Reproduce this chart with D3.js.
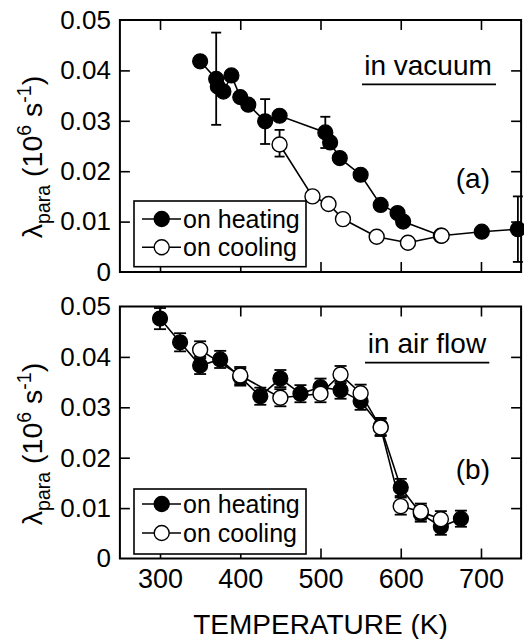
<!DOCTYPE html>
<html><head><meta charset="utf-8">
<script src="https://cdn.jsdelivr.net/npm/d3@7/dist/d3.min.js"></script>
<style>body{margin:0;background:#fff}text{font-family:"Liberation Sans",Arial,Helvetica,sans-serif;fill:#000}</style>
</head><body>
<svg id="chart" width="524" height="639"></svg>
<script>
// ---------- data ----------
const xTicks = [300, 400, 500, 600, 700];
const yTicks = [0, 0.01, 0.02, 0.03, 0.04, 0.05];
const yTickLabels = ["0", "0.01", "0.02", "0.03", "0.04", "0.05"];
const seriesNames = ["on heating", "on cooling"];
const panelNotes = ["in vacuum", "in air flow"];
const panelTags = ["(a)", "(b)"];
const xTitle = "TEMPERATURE (K)";

// (a) in vacuum
const vacHeatT = [350, 370, 372, 379, 389, 400, 410, 431, 449, 506, 512, 524, 550, 575, 596, 603, 650, 701, 746];
const vacHeatV = [0.0418, 0.0383, 0.0368, 0.0358, 0.0390, 0.0347, 0.0332, 0.0299, 0.0310, 0.0277, 0.0257, 0.0226, 0.0193, 0.0133, 0.0117, 0.0100, 0.0072, 0.0080, 0.0085];
const vacCoolT = [449, 490, 510, 528, 570, 609, 651];
const vacCoolV = [0.0253, 0.0150, 0.0135, 0.0105, 0.0070, 0.0058, 0.0072];
const vacErrT  = [370, 431, 506, 746, 449];
const vacErrLo = [0.0292, 0.0254, 0.0246, 0.0020, 0.0229];
const vacErrHi = [0.0475, 0.0343, 0.0308, 0.0150, 0.0282];

// (b) in air flow
const airHeatT = [300, 325, 350, 375, 400, 425, 450, 475, 500, 525, 550, 575, 600, 625, 650, 675];
const airHeatV = [0.0476, 0.0429, 0.0383, 0.0395, 0.0360, 0.0322, 0.0357, 0.0327, 0.0340, 0.0334, 0.0312, 0.0262, 0.0141, 0.0089, 0.0063, 0.0079];
const airHeatErr = [0.0021, 0.0018, 0.0017, 0.0017, 0.0017, 0.0017, 0.0017, 0.0017, 0.0017, 0.0017, 0.0017, 0.0017, 0.0017, 0.0016, 0.0016, 0.0016];
const airCoolT = [350, 400, 450, 500, 525, 550, 575, 600, 625, 650];
const airCoolV = [0.0414, 0.0363, 0.0319, 0.0327, 0.0365, 0.0328, 0.0260, 0.0104, 0.0093, 0.0078];
const airCoolErr = [0.0017, 0.0017, 0.0017, 0.0017, 0.0017, 0.0017, 0.0017, 0.0017, 0.0016, 0.0016];

// ---------- layout ----------
const svg = d3.select("#chart");
const X0 = 119.9, X1 = 521.1;
const x = d3.scaleLinear().domain([250, 750]).range([X0, X1]);

const panels = [
  { top: 20, bottom: 272,
    heat: vacHeatT.map((t, i) => ({ t, v: vacHeatV[i] })),
    cool: vacCoolT.map((t, i) => ({ t, v: vacCoolV[i] })),
    errs: vacErrT.map((t, i) => ({ t, lo: vacErrLo[i], hi: vacErrHi[i] })),
    cap: 5,
    note: { x: 428, y: 75, ux0: 362, ux1: 496, uy: 84.3 },
    tag: { x: 490, y: 187.5 },
    legend: { x0: 134, y0: 201, x1: 306, y1: 266.7, r1: 219, r2: 247.3 },
    labelY: 157 },
  { top: 306.5, bottom: 558.5,
    heat: airHeatT.map((t, i) => ({ t, v: airHeatV[i] })),
    cool: airCoolT.map((t, i) => ({ t, v: airCoolV[i] })),
    errs: airHeatT.map((t, i) => ({ t, lo: airHeatV[i] - airHeatErr[i], hi: airHeatV[i] + airHeatErr[i] }))
      .concat(airCoolT.map((t, i) => ({ t, lo: airCoolV[i] - airCoolErr[i], hi: airCoolV[i] + airCoolErr[i] }))),
    cap: 6,
    note: { x: 427, y: 353.3, ux0: 365, ux1: 489.3, uy: 362.7 },
    tag: { x: 490, y: 479 },
    legend: { x0: 134, y0: 489, x1: 306, y1: 554, r1: 504, r2: 533 },
    labelY: 444 }
];

const R = 7.5;

panels.forEach((p, pi) => {
  const y = d3.scaleLinear().domain([0, 0.05]).range([p.bottom, p.top]);
  const g = svg.append("g");

  // axes (inward ticks on all four sides)
  const left = g.append("g").attr("transform", `translate(${X0},0)`)
    .call(d3.axisLeft(y).tickValues(yTicks).tickSize(-10).tickPadding(9)
      .tickFormat((d, i) => yTickLabels[i]));
  const right = g.append("g").attr("transform", `translate(${X1},0)`)
    .call(d3.axisRight(y).tickValues(yTicks.slice(1, -1)).tickSize(-10).tickFormat(""));
  const topAx = g.append("g").attr("transform", `translate(0,${p.top})`)
    .call(d3.axisTop(x).tickValues(xTicks).tickSize(-10).tickFormat(""));
  const botAx = g.append("g").attr("transform", `translate(0,${p.bottom})`)
    .call(d3.axisBottom(x).tickValues(xTicks).tickSize(-10).tickPadding(10)
      .tickFormat(pi === 1 ? d3.format("d") : ""));
  [left, right, topAx, botAx].forEach(a => {
    a.select(".domain").remove();
    a.selectAll(".tick line").attr("stroke", "#000").attr("stroke-width", 1.6);
    a.selectAll("text").style("font-family", '"Liberation Sans",Arial,sans-serif').attr("fill", "#000");
  });
  left.selectAll(".tick line").filter(d => d === 0 || d === 0.05).remove();
  left.selectAll("text").style("font-size", "26px");
  botAx.selectAll("text").style("font-size", "27px");

  g.append("rect").attr("x", X0).attr("y", p.top).attr("width", X1 - X0).attr("height", p.bottom - p.top)
    .attr("fill", "none").attr("stroke", "#000").attr("stroke-width", 2);

  // lines
  const line = d3.line().x(d => x(d.t)).y(d => y(d.v));
  g.append("path").datum(p.heat).attr("d", line).attr("fill", "none").attr("stroke", "#000").attr("stroke-width", 1.6);
  g.append("path").datum(p.cool).attr("d", line).attr("fill", "none").attr("stroke", "#000").attr("stroke-width", 1.6);

  // error bars
  const eb = g.append("g").attr("stroke", "#000").attr("stroke-width", 1.8);
  p.errs.forEach(e => {
    const cx = x(e.t);
    eb.append("line").attr("x1", cx).attr("x2", cx).attr("y1", y(e.lo)).attr("y2", y(e.hi));
    eb.append("line").attr("x1", cx - p.cap).attr("x2", cx + p.cap).attr("y1", y(e.lo)).attr("y2", y(e.lo));
    eb.append("line").attr("x1", cx - p.cap).attr("x2", cx + p.cap).attr("y1", y(e.hi)).attr("y2", y(e.hi));
  });

  // markers
  g.append("g").selectAll("circle").data(p.heat).join("circle")
    .attr("cx", d => x(d.t)).attr("cy", d => y(d.v)).attr("r", R)
    .attr("fill", "#000").attr("stroke", "#000").attr("stroke-width", 1.2);
  g.append("g").selectAll("circle").data(p.cool).join("circle")
    .attr("cx", d => x(d.t)).attr("cy", d => y(d.v)).attr("r", R)
    .attr("fill", "#fff").attr("stroke", "#000").attr("stroke-width", 1.4);

  // annotation
  g.append("text").attr("x", p.note.x).attr("y", p.note.y).attr("text-anchor", "middle")
    .style("font-size", "28px").text(panelNotes[pi]);
  g.append("line").attr("x1", p.note.ux0).attr("x2", p.note.ux1).attr("y1", p.note.uy).attr("y2", p.note.uy)
    .attr("stroke", "#000").attr("stroke-width", 1.8);
  g.append("text").attr("x", p.tag.x).attr("y", p.tag.y).attr("text-anchor", "end")
    .style("font-size", "28px").text(panelTags[pi]);

  // legend
  const L = p.legend;
  g.append("rect").attr("x", L.x0).attr("y", L.y0).attr("width", L.x1 - L.x0).attr("height", L.y1 - L.y0)
    .attr("fill", "#fff").attr("stroke", "#000").attr("stroke-width", 1.6);
  [[L.r1, "#000"], [L.r2, "#fff"]].forEach(([ry, fill], k) => {
    g.append("line").attr("x1", 142).attr("x2", 181).attr("y1", ry).attr("y2", ry)
      .attr("stroke", "#000").attr("stroke-width", 1.6);
    g.append("circle").attr("cx", 161.7).attr("cy", ry).attr("r", R)
      .attr("fill", fill).attr("stroke", "#000").attr("stroke-width", 1.4);
    g.append("text").attr("x", 183).attr("y", ry + 8.5).style("font-size", "25px").text(seriesNames[k]);
  });

  // y-axis label
  const lab = svg.append("text").attr("transform", `translate(42,${p.labelY}) rotate(-90)`)
    .attr("text-anchor", "middle").style("font-size", "28.5px");
  lab.append("tspan").text("λ");
  lab.append("tspan").attr("dy", 8).style("font-size", "19.5px").text("para");
  lab.append("tspan").attr("dy", -8).text(" (10");
  lab.append("tspan").attr("dy", -11).style("font-size", "19.5px").text("6");
  lab.append("tspan").attr("dy", 11).text(" s");
  lab.append("tspan").attr("dy", -11).style("font-size", "19.5px").text("-1");
  lab.append("tspan").attr("dy", 11).text(")");
});

svg.append("text").attr("x", (X0 + X1) / 2).attr("y", 634).attr("text-anchor", "middle")
  .style("font-size", "28px").text(xTitle);
</script>
</body></html>
